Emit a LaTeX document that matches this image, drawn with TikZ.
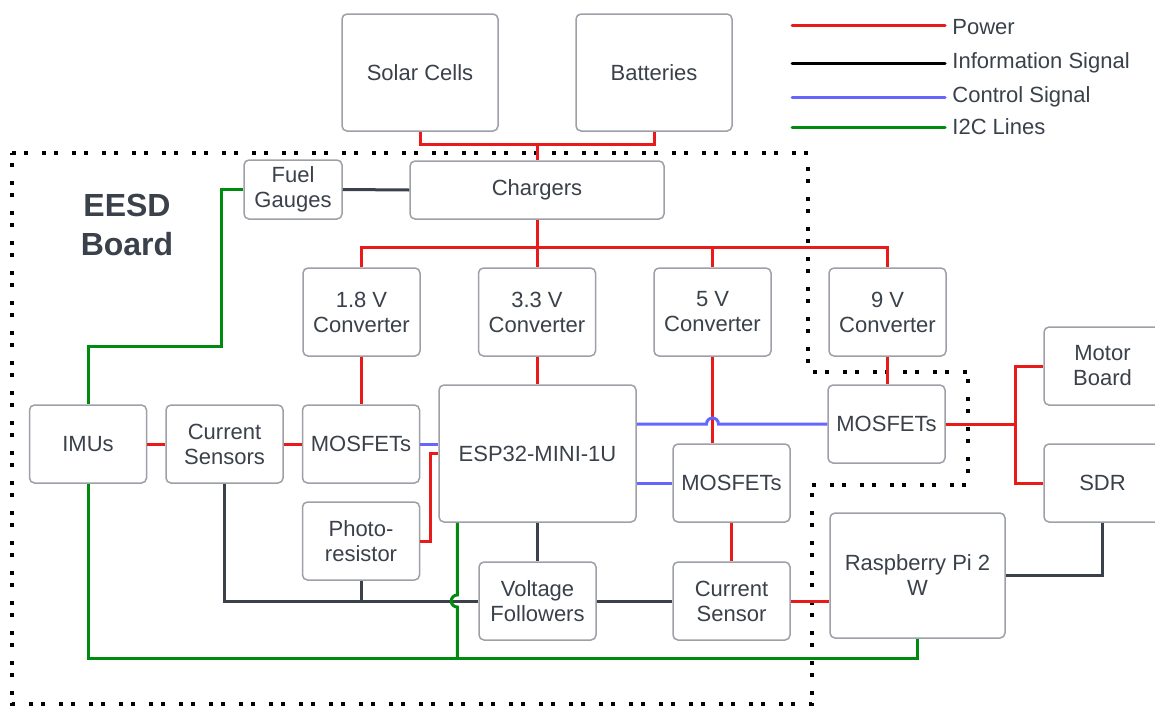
\documentclass[tikz,border=0pt]{standalone}
\usepackage{fontspec}
\setmainfont{Liberation Sans}
\usetikzlibrary{positioning}
\definecolor{pwrred}{HTML}{E81A1A}
\definecolor{infogray}{HTML}{3A414A}
\definecolor{ctlblue}{HTML}{6666FF}
\definecolor{i2cgreen}{HTML}{008A0E}
\definecolor{txtgray}{HTML}{3A414A}
\definecolor{boxgray}{HTML}{9DA0A6}

\begin{document}
\begin{tikzpicture}[x=0.5pt,y=-0.5pt,font=\fontsize{11}{12.5}\selectfont,
 box/.style={draw=boxgray,line width=.75pt,rounded corners=2.5pt,fill=white,text=txtgray,align=center,inner sep=0pt,minimum width=58.5pt,minimum height=39pt},
 tall/.style={box,minimum height=44pt},
 wire/.style={line width=1.5pt},
 pwr/.style={wire,draw=pwrred},
 info/.style={wire,draw=infogray},
 ctl/.style={wire,draw=ctlblue},
 i2c/.style={wire,draw=i2cgreen},
 legtxt/.style={anchor=west,text=txtgray,inner sep=0pt},
 border/.style={draw=black,line width=2pt,dash pattern=on 2pt off 4pt on 2pt off 7pt}]
\useasboundingbox (0,0) rectangle (1155,707);
\draw[border] (12,153) -- (808,153) -- (808,372) -- (968,372) -- (968,485) -- (812,485) -- (812,704) -- (12,704) -- cycle;
\node[box,minimum width=78pt,minimum height=58.5pt] (solar) at (420,72.5) {Solar Cells};
\node[box,minimum width=78pt,minimum height=58.5pt] (batt) at (654,72.5) {Batteries};
\node[box,minimum width=127pt,minimum height=29pt] (chg) at (537,190) {Chargers};
\node[box,minimum width=49pt,minimum height=29.5pt] (fuel) at (293,189.5) {Fuel\\Gauges};
\node[font=\fontsize{16}{19.5}\selectfont\bfseries,text=txtgray,align=center] (eesd) at (127,225) {EESD\\Board};
\node[tall] (c18) at (361.5,312) {1.8 V\\Converter};
\node[tall] (c33) at (537,312) {3.3 V\\Converter};
\node[tall] (c5) at (712.5,312) {5 V\\Converter};
\node[tall] (c9) at (887.5,312) {9 V\\Converter};
\node[box] (imu) at (88,444) {IMUs};
\node[box] (isens) at (224.5,444) {Current\\Sensors};
\node[box] (fetL) at (361,444) {MOSFETs};
\node[box] (photo) at (361,541) {Photo-\\resistor};
\node[box,minimum width=98.5pt,minimum height=68.5pt] (esp) at (537.5,453.5) {ESP32-MINI-1U};
\node[box] (fetM) at (731.5,483) {MOSFETs};
\node[box] (vf) at (537.5,601) {Voltage\\Followers};
\node[box] (csens) at (731.5,601) {Current\\Sensor};
\node[box] (fetR) at (886.5,424) {MOSFETs};
\node[box] (motor) at (1102.5,366) {Motor\\Board};
\node[box] (sdr) at (1102.5,483) {SDR};
\node[box,minimum width=87.5pt,minimum height=62.5pt] (rpi) at (917.5,575.5) {Raspberry Pi 2\\W};
\coordinate (gEsp) at ([xshift=9.5pt]esp.south west);
\coordinate (gBus) at ([yshift=-10pt]rpi.south);
\coordinate (gTop) at (221,346);
\draw[pwr] (solar.south) |- ([yshift=8pt]chg.north) -| (batt.south);
\draw[pwr] ([yshift=8pt]chg.north) -- (chg.north);
\draw[pwr] (c18.north) |- ([yshift=-14pt]chg.south) -| (c9.north);
\draw[pwr] (chg.south) -- (c33.north);
\draw[pwr] ([yshift=10.5pt]c5.north) -- (c5.north);
\draw[pwr] (c18.south) -- (c18.south |- fetL.north);
\draw[pwr] (c33.south) -- (c33.south |- esp.north);
\draw[pwr] (c5.south) -- (c5.south |- fetM.north);
\draw[pwr] (c9.south) -- (c9.south |- fetR.north);
\draw[pwr] (imu.east) -- (isens.west);
\draw[pwr] (isens.east) -- (fetL.west);
\draw[pwr] (photo.east) -- ++(5pt,0) |- (esp.west);
\draw[pwr] (fetM.south) -- (csens.north);
\draw[pwr] (csens.east) -- (rpi.west |- csens.east);
\draw[pwr] (fetR.east) -- ++(35pt,0) coordinate (split) |- (motor.west);
\draw[pwr] (split) |- (sdr.west);
\draw[ctl] (fetL.east) -- (esp.west |- fetL.east);
\draw[ctl] (esp.east |- fetR.west) -- ([xshift=-3pt]c5.south |- fetR.west) arc[start angle=180,end angle=0,radius=3pt] -- (fetR.west);
\draw[ctl] (esp.east |- fetM.west) -- (fetM.west);
\draw[info] (fuel.east) -- (chg.west);
\draw[info] (isens.south) |- (vf.west);
\draw[info] (photo.south) -- (photo.south |- vf.west);
\draw[info] (esp.south) -- (esp.south |- vf.north);
\draw[info] (vf.east) -- (csens.west);
\draw[info] (rpi.east) -| (sdr.south);
\draw[i2c] (fuel.west) -| (gTop) -| (imu.north);
\draw[i2c] (imu.south) |- (gBus) -- (rpi.south);
\draw[i2c] (gEsp) -- ([yshift=3pt]gEsp |- vf.west) arc[start angle=90,end angle=270,radius=3pt] -- (gEsp |- gBus);
\node[legtxt] (lgPwr) at (952,27) {Power};
\node[legtxt] (lgInfo) at (952,63) {Information Signal};
\node[legtxt] (lgCtl) at (952,97) {Control Signal};
\node[legtxt] (lgI2c) at (952,127) {I2C Lines};
\draw[pwr,line cap=round] ([xshift=-3.5pt,yshift=1pt]lgPwr.west) -- ++(-76.5pt,0);
\draw[info,draw=black,line cap=round] ([xshift=-3.5pt]lgInfo.west) -- ++(-76.5pt,0);
\draw[ctl,line cap=round] ([xshift=-3.5pt]lgCtl.west) -- ++(-76.5pt,0);
\draw[i2c,line cap=round] ([xshift=-3.5pt]lgI2c.west) -- ++(-76.5pt,0);
\end{tikzpicture}
\end{document}
